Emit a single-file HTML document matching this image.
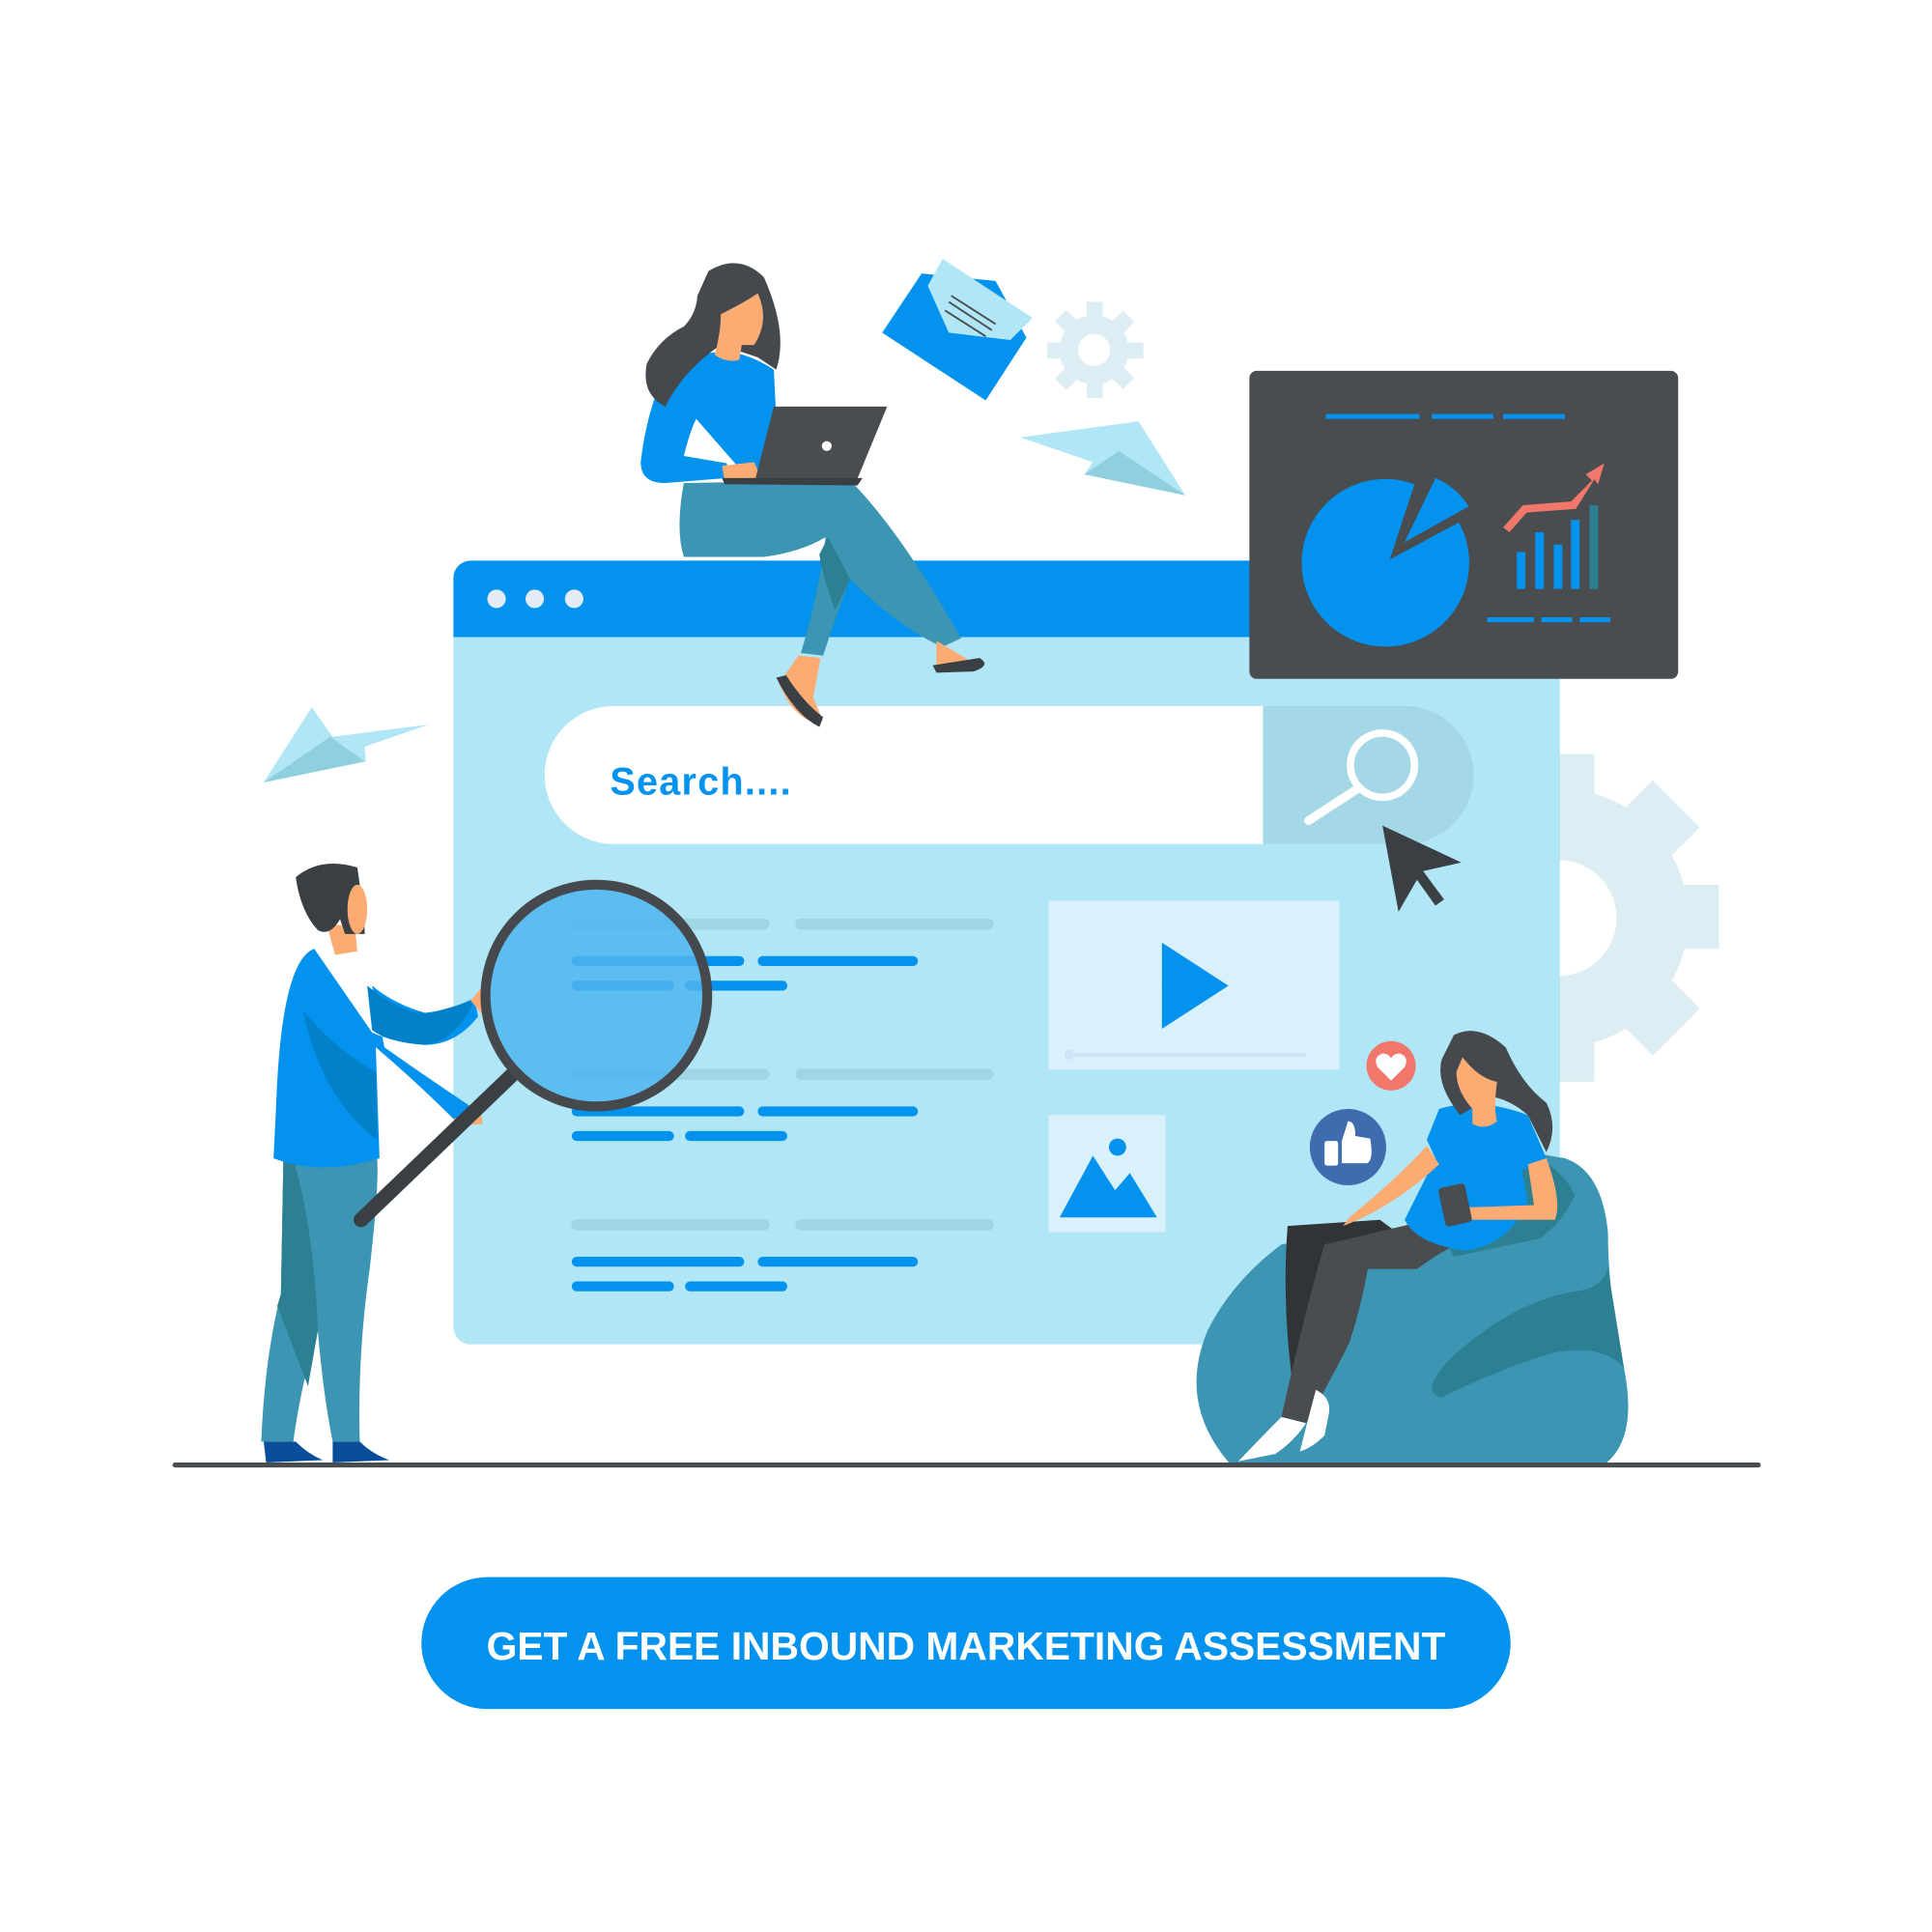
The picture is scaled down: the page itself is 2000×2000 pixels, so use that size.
<!DOCTYPE html>
<html><head><meta charset="utf-8"><style>html,body{margin:0;padding:0;background:#fff}svg{display:block}</style></head>
<body>
<svg width="2000" height="2000" viewBox="0 0 1568 1568" xmlns="http://www.w3.org/2000/svg">
<rect width="1568" height="1568" fill="#fff"/>
<g fill="#dceef3">
<circle cx="1265" cy="745" r="105"/>
<rect x="1240" y="612" width="54" height="266"/>
<rect x="1132" y="718" width="263" height="52"/>
<rect x="1240" y="612" width="54" height="266" transform="rotate(45 1265 745)"/>
<rect x="1240" y="612" width="54" height="266" transform="rotate(-45 1265 745)"/>
</g>
<circle cx="1265" cy="745" r="47" fill="#fff"/>
<g fill="#dceef3">
<circle cx="888" cy="284" r="28"/>
<rect x="882" y="245" width="13" height="78"/>
<rect x="850" y="278" width="78" height="13"/>
<rect x="882" y="245" width="13" height="78" transform="rotate(45 888 284)"/>
<rect x="882" y="245" width="13" height="78" transform="rotate(-45 888 284)"/>
</g>
<circle cx="888" cy="284" r="13" fill="#fff"/>
<rect x="368" y="455" width="898" height="636" rx="14" fill="#b0e6f5"/>
<path d="M382 455 H1266 V517 H368 V469 A14 14 0 0 1 382 455Z" fill="#0392ee"/>
<circle cx="403" cy="486" r="7.5" fill="#e3ecf6"/><circle cx="434" cy="486" r="7.5" fill="#e3ecf6"/><circle cx="466" cy="486" r="7.5" fill="#e3ecf6"/>
<path d="M1025 573 H1140 A56 56 0 0 1 1140 685 H1025Z" fill="#a4d8e6"/>
<path d="M498 573 H1025 V685 H498 A56 56 0 0 1 498 573Z" fill="#fff"/>
<text x="495" y="645" font-family="Liberation Sans, sans-serif" font-weight="bold" font-size="31" fill="#0392ee" letter-spacing="1">Search....</text>
<circle cx="1122" cy="621" r="26" fill="none" stroke="#fff" stroke-width="6"/>
<line x1="1102" y1="640" x2="1062" y2="666" stroke="#fff" stroke-width="7" stroke-linecap="round"/>
<path d="M1122 670 L1186 700 L1155 707 L1172 730 L1165 735 L1150 714 L1135 740Z" fill="#3a3f44"/>
<g stroke-linecap="round" stroke-width="9">
<g stroke="#9fd6e4"><line x1="468" y1="750" x2="620" y2="750"/><line x1="650" y1="750" x2="802" y2="750"/>
<line x1="468" y1="872" x2="620" y2="872"/><line x1="650" y1="872" x2="802" y2="872"/>
<line x1="468" y1="994" x2="620" y2="994"/><line x1="650" y1="994" x2="802" y2="994"/></g>
<g stroke="#0392ee" stroke-width="8">
<line x1="468" y1="780" x2="600" y2="780"/><line x1="619" y1="780" x2="741" y2="780"/><line x1="468" y1="800" x2="543" y2="800"/><line x1="560" y1="800" x2="635" y2="800"/>
<line x1="468" y1="902" x2="600" y2="902"/><line x1="619" y1="902" x2="741" y2="902"/><line x1="468" y1="922" x2="543" y2="922"/><line x1="560" y1="922" x2="635" y2="922"/>
<line x1="468" y1="1024" x2="600" y2="1024"/><line x1="619" y1="1024" x2="741" y2="1024"/><line x1="468" y1="1044" x2="543" y2="1044"/><line x1="560" y1="1044" x2="635" y2="1044"/></g>
</g>
<rect x="851" y="731" width="236" height="137" fill="#d9f1fb"/>
<path d="M943 765 L997 800 L943 835Z" fill="#0392ee"/>
<line x1="868" y1="856" x2="1060" y2="856" stroke="#cde3f7" stroke-width="3"/><circle cx="868" cy="856" r="4" fill="#cde3f7"/>
<rect x="851" y="905" width="95" height="95" fill="#d9f1fb"/>
<path d="M860 988 L887 938 L905 966 L917 952 L939 988Z" fill="#0392ee"/><circle cx="907" cy="931" r="7" fill="#0392ee"/>
<rect x="1014" y="301" width="348" height="250" rx="6" fill="#4a4d50"/>
<g stroke="#0392ee" stroke-width="4"><line x1="1076" y1="338" x2="1152" y2="338"/><line x1="1162" y1="338" x2="1212" y2="338"/><line x1="1220" y1="338" x2="1270" y2="338"/>
<line x1="1207" y1="503" x2="1245" y2="503"/><line x1="1251" y1="503" x2="1276" y2="503"/><line x1="1282" y1="503" x2="1307" y2="503"/></g>
<path d="M1130 450 L1186 420 A68 68 0 1 1 1150 389Z" fill="#0392ee" transform="translate(-2 4)"/>
<path d="M1140 440 L1165 388 A60 60 0 0 1 1192 411Z" fill="#0392ee"/>
<g fill="#0392ee"><rect x="1231" y="448" width="7" height="30"/><rect x="1246" y="432" width="7" height="46"/><rect x="1261" y="442" width="7" height="36"/><rect x="1275" y="422" width="7" height="56"/></g>
<rect x="1290" y="410" width="7" height="68" fill="#2d7f92"/>
<path d="M1220 428 L1236 410 L1275 407 L1292 390 L1287 385 L1302 376 L1297 393 L1294 389 L1279 413 L1239 416 L1225 432Z" fill="#f1776b"/>
<path d="M748 222 L808 228 L833 274 L800 325 L716 270Z" fill="#0392ee"/>
<path d="M765 210 L838 258 L820 276 L770 270 L753 232Z" fill="#b0e6f5"/>
<g stroke="#4a4d50" stroke-width="1.5"><line x1="770" y1="245" x2="805" y2="268"/><line x1="767" y1="252" x2="800" y2="273"/><line x1="772" y1="240" x2="808" y2="263"/></g>
<path d="M828 355 L924 342 L962 402 L880 385 L887 375Z" fill="#b0e6f5"/><path d="M880 385 L962 402 L908 366Z" fill="#8fcfde"/>
<path d="M214 635 L253 574 L270 598 L348 588 L296 606 L297 618Z" fill="#b0e6f5"/><path d="M214 635 L268 598 L296 618Z" fill="#8fcfde"/>
<path d="M230 940 L228 1050 Q215 1100 212 1170 L238 1170 Q245 1120 258 1080 Q262 1130 270 1170 L292 1170 Q290 1100 300 1030 Q308 960 306 940Z" fill="#3b95b3"/>
<path d="M230 940 L228 1050 Q222 1070 225 1060 L250 1125 L258 1080 Q255 1000 238 940Z" fill="#2d7f92"/>
<path d="M214 1170 L240 1170 Q250 1180 262 1185 L216 1187Z" fill="#0a4e9b"/><path d="M270 1170 L292 1170 Q302 1180 316 1185 L270 1187Z" fill="#0a4e9b"/>
<path d="M255 770 Q228 780 224 900 L222 940 Q260 955 308 940 L305 850 Q340 880 370 910 L385 900 Q340 870 312 850 L302 800 Q320 815 345 822 Q365 820 385 810 L388 825 Q370 848 345 848 Q320 846 302 838Z" fill="#0392ee"/>
<path d="M298 800 Q330 825 350 822 L385 812 Q370 845 345 848 Q315 846 302 836Z" fill="#0281c8"/>
<path d="M246 820 Q260 890 306 925 L305 870 Q270 850 246 820Z" fill="#0281c8"/>
<path d="M265 750 L288 752 L290 772 L272 775Z" fill="#fcab73"/>
<path d="M240 712 Q260 695 290 704 Q296 745 296 758 L280 758 L276 746 Q268 760 258 755 Q244 740 240 712Z" fill="#3a3f44"/>
<ellipse cx="290" cy="738" rx="8" ry="20" fill="#fcab73"/>
<path d="M368 908 L390 902 L392 912 L372 914Z" fill="#fcab73"/><path d="M382 812 L392 800 L392 824Z" fill="#fcab73"/>
<line x1="293" y1="990" x2="416" y2="872" stroke="#3a3f44" stroke-width="12" stroke-linecap="round"/>
<circle cx="484" cy="808" r="90" fill="#4fb4ef" fill-opacity="0.85" stroke="#45494d" stroke-width="8"/>
<path d="M555 392 Q548 430 555 452 L620 452 Q650 448 670 436 Q665 480 650 530 L668 532 Q682 490 690 470 Q730 510 765 525 L780 518 Q730 430 690 390Z" fill="#3b95b3"/>
<path d="M672 436 L690 470 L678 495 Q668 470 665 450Z" fill="#2d7f92"/>
<path d="M648 532 L666 534 L660 566 L668 585 Q655 590 640 570 L632 555Z" fill="#fcab73"/>
<path d="M630 550 Q645 580 665 590 L668 582 Q652 570 638 548Z" fill="#3a3f44"/>
<path d="M760 520 L790 538 L760 540Z" fill="#fcab73"/><path d="M757 540 L795 534 Q805 540 790 545 L760 546Z" fill="#3a3f44"/>
<path d="M545 290 Q525 330 520 375 Q520 392 540 392 L590 388 L590 376 L555 370 Q560 350 565 340 L600 380 L620 385 L630 340 L628 300 Q610 288 590 285Z" fill="#0392ee"/>
<path d="M586 378 L612 375 L618 388 L588 390Z" fill="#fcab73"/>
<path d="M628 330 L720 330 L694 393 L612 393Z" fill="#4a4d50"/><path d="M586 388 L700 388 L696 394 L588 393Z" fill="#3a3f44"/>
<circle cx="671" cy="362" r="4" fill="#fff"/>
<path d="M575 220 Q600 205 620 225 Q640 270 630 300 L615 290 L585 280 Q555 300 540 330 Q520 320 525 295 Q535 275 555 265 Q565 255 566 240Z" fill="#45494d"/>
<path d="M585 255 Q605 245 615 238 Q625 260 612 280 L602 280 L600 292 Q590 295 580 288 Q585 270 585 255Z" fill="#fcab73"/>
<path d="M1040 1010 Q1000 1040 980 1080 Q955 1140 1000 1190 L1300 1190 Q1330 1170 1318 1110 Q1305 1050 1305 1000 Q1300 950 1270 940 L1240 935 L1200 990 L1100 1000Z" fill="#3b95b3"/>
<path d="M1240 935 Q1270 950 1278 970 Q1270 990 1250 1005 L1180 1020 L1170 1000Z" fill="#2d7f92"/>
<path d="M1305 1030 Q1300 1045 1280 1048 Q1230 1055 1180 1100 Q1150 1130 1170 1134 Q1220 1110 1260 1098 Q1300 1090 1318 1110Z" fill="#2d7f92"/>
<path d="M1045 995 Q1040 1060 1050 1130 L1075 1125 L1090 1030 L1140 1005 L1120 990Z" fill="#313437"/>
<path d="M1075 1010 Q1060 1060 1040 1150 L1060 1155 Q1080 1120 1095 1090 Q1105 1060 1110 1030 L1150 1030 Q1190 1000 1220 1000 L1160 990Z" fill="#4a4d50"/>
<path d="M1040 1150 L1060 1155 Q1050 1170 1035 1180 L1005 1186 Q1025 1165 1040 1150Z" fill="#fff"/><path d="M1068 1128 Q1082 1135 1078 1150 L1075 1165 Q1065 1175 1055 1178 Q1062 1150 1068 1128Z" fill="#fff"/>
<path d="M1168 900 Q1200 890 1240 905 L1255 940 L1235 950 L1240 975 Q1225 1010 1190 1015 Q1150 1010 1140 990 L1165 940 L1158 925Z" fill="#0392ee"/>
<path d="M1158 930 L1168 945 Q1130 980 1090 995 L1095 988 Q1130 960 1158 930Z" fill="#fcab73"/>
<path d="M1240 945 L1255 940 Q1268 975 1262 990 L1190 990 L1188 980 L1245 978Z" fill="#fcab73"/>
<rect x="1170" y="962" width="22" height="32" rx="3" fill="#4a4d50" transform="rotate(-12 1181 978)"/>
<path d="M1180 840 Q1200 830 1222 850 Q1235 880 1255 895 Q1265 915 1255 935 L1240 905 Q1225 892 1210 890 L1185 905 Q1165 880 1170 860Z" fill="#45494d"/>
<path d="M1187 858 Q1200 875 1215 878 Q1212 900 1215 910 Q1205 918 1195 912 L1195 900 Q1182 885 1182 870Z" fill="#fcab73"/>
<circle cx="1129" cy="865" r="20" fill="#f1776b"/><path d="M1129 877 L1118 866 Q1114 858 1122 855 Q1127 855 1129 859 Q1131 855 1136 855 Q1144 858 1140 866Z" fill="#fff"/>
<ellipse cx="1094" cy="931" rx="31" ry="31" fill="#3e6caf"/>
<rect x="1075" y="926" width="11" height="20" rx="2" fill="#fff"/><path d="M1089 926 L1094 910 Q1100 910 1100 922 L1112 924 Q1115 940 1110 944 L1089 944Z" fill="#fff"/>
<line x1="142" y1="1189" x2="1427" y2="1189" stroke="#4a4d50" stroke-width="4" stroke-linecap="round"/>
<rect x="342" y="1280" width="884" height="107" rx="53.5" fill="#0392ee"/>
<text x="784" y="1347" text-anchor="middle" font-family="Liberation Sans, sans-serif" font-weight="bold" font-size="32" fill="#fff">GET A FREE INBOUND MARKETING ASSESSMENT</text>
</svg>
</body></html>
